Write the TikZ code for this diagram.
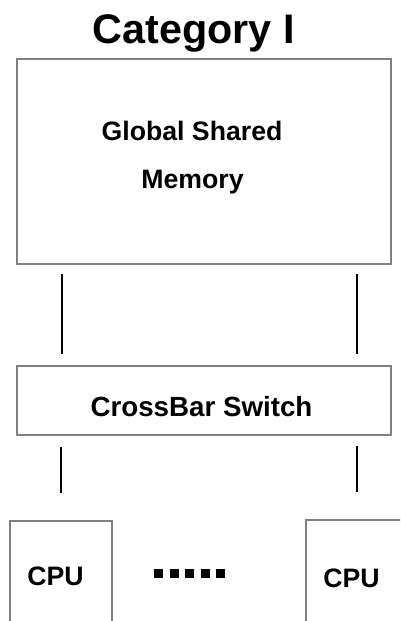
\documentclass[tikz,border=0pt]{standalone}
\usepackage{fontspec}
\setmainfont{Liberation Sans}
\begin{document}
\begin{tikzpicture}[x=0.75pt,y=-0.75pt,
  unitbox/.style={draw=black!50,line width=1.2pt},
  link/.style={draw=black,line width=1.7pt},
  lbl/.style={font=\bfseries\fontsize{20}{24}\selectfont,anchor=base,inner sep=0pt},
  ttl/.style={font=\bfseries\fontsize{31}{36}\selectfont,anchor=base,inner sep=0pt}]
  \useasboundingbox (0,0) rectangle (400,621);
  \clip (0,0) rectangle (400,621);
  % title
  \node[ttl] (title) at (193.5,43) {Category I};
  % memory
  \draw[unitbox] (17,59) rectangle (391,264);
  \node[lbl] (mem1) at (192,140) {Global Shared};
  \node[lbl] (mem2) at (192.5,188) {Memory};
  % memory to switch
  \coordinate (ma) at (62,274);  \coordinate (mb) at (62,354);
  \coordinate (mc) at (357,274); \coordinate (md) at (357,354);
  \draw[link] (ma) -- (mb);
  \draw[link] (mc) -- (md);
  % crossbar switch
  \draw[unitbox] (17,366) rectangle (391,435);
  \node[lbl,font=\bfseries\fontsize{20.8}{24}\selectfont] (xbar) at (201.5,416) {CrossBar Switch};
  % switch to processors
  \coordinate (sa) at (61,447);  \coordinate (sb) at (61,493);
  \coordinate (sc) at (357,446); \coordinate (sd) at (357,492);
  \draw[link] (sa) -- (sb);
  \draw[link] (sc) -- (sd);
  % processors
  \draw[unitbox] (10,521) rectangle (112,640);
  \draw[unitbox] (306,520) rectangle (420,640);
  \node[lbl] (cpu1) at (55.5,585) {CPU};
  \node[lbl] (cpu2) at (351.5,587) {CPU};
  % ellipsis between processors
  \foreach \i in {0,...,4}
    \fill (154+15.5*\i,569) rectangle ++(9,9);
\end{tikzpicture}
\end{document}
